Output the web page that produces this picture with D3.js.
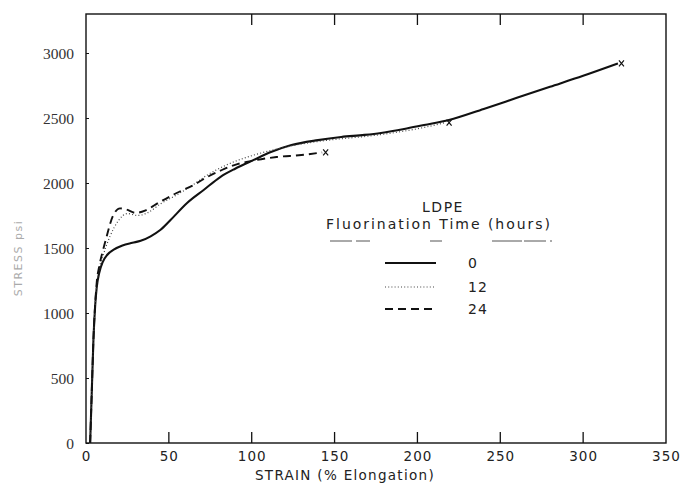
<!DOCTYPE html>
<html>
<head>
<meta charset="utf-8">
<script src="https://cdn.jsdelivr.net/npm/d3@7"></script>
<style>
  html, body { margin: 0; padding: 0; background: #fff; }
  svg { display: block; }
</style>
</head>
<body>
<svg id="chart" width="681" height="487"></svg>
<script>
// ---- data ----
const strain0  = [2.5, 3.5, 4.5, 5.5, 6.5, 8, 10, 13, 17, 22, 28, 33, 39, 45, 51, 61, 71, 81, 90, 100, 112, 124, 140, 154, 168, 178, 192, 204, 219, 240, 260, 280, 300, 321];
const stress0  = [0, 400, 800, 1050, 1200, 1310, 1390, 1450, 1490, 1520, 1540, 1555, 1590, 1640, 1715, 1846, 1946, 2046, 2110, 2170, 2240, 2292, 2330, 2354, 2370, 2385, 2415, 2446, 2485, 2570, 2655, 2740, 2825, 2920];
const strain12 = [2.5, 3.5, 4.5, 5.5, 6.5, 8, 10.5, 14.5, 19.5, 25, 31, 37, 45, 55, 65, 73, 85, 100, 115, 130, 150, 170, 190, 205, 217];
const stress12 = [0, 400, 800, 1050, 1220, 1340, 1450, 1590, 1710, 1765, 1750, 1770, 1840, 1910, 1990, 2060, 2140, 2210, 2260, 2300, 2335, 2360, 2395, 2430, 2465];
const strain24 = [2.5, 3.5, 4.5, 5.5, 6.5, 8, 10, 12.5, 16, 20.5, 24.5, 30, 36, 44, 55, 65, 73, 82, 90, 100, 115, 130, 142.5];
const stress24 = [0, 400, 800, 1060, 1240, 1360, 1470, 1590, 1740, 1805, 1795, 1770, 1790, 1850, 1925, 1985, 2045, 2100, 2140, 2170, 2200, 2215, 2235];
const seriesNames = ["0", "12", "24"];
const xTicks = [0, 50, 100, 150, 200, 250, 300, 350];
const yTicks = [0, 500, 1000, 1500, 2000, 2500, 3000];
const topTicks = [100, 150, 200, 250, 300];

// ---- layout ----
const svg = d3.select("#chart");
const L = 86, R = 666, T = 14, B = 443;
const x = d3.scaleLinear().domain([0, 350]).range([L, R]);
const y = d3.scaleLinear().domain([0, 3300]).range([B, T]);
const ink = "#111";

// frame
svg.append("rect").attr("x", L).attr("y", T).attr("width", R - L).attr("height", B - T)
  .attr("fill", "none").attr("stroke", ink).attr("stroke-width", 1.4);

// bottom axis: inward ticks + labels
const xAxis = d3.axisBottom(x).tickValues(xTicks).tickSize(0).tickPadding(0).tickFormat(d3.format("d"));
const gx = svg.append("g").attr("transform", `translate(0,${B})`).call(xAxis);
gx.select(".domain").remove();
gx.selectAll("text").attr("y", 18).attr("dy", 0)
  .attr("font-family", "DejaVu Sans, sans-serif").attr("font-size", 13.5)
  .attr("letter-spacing", 1).attr("fill", "#222");
svg.append("g").selectAll("line").data(xTicks.filter(d => d > 0 && d < 350)).join("line")
  .attr("x1", d => x(d)).attr("x2", d => x(d)).attr("y1", B).attr("y2", B - 11)
  .attr("stroke", ink).attr("stroke-width", 1.3);
// top ticks
svg.append("g").selectAll("line").data(topTicks).join("line")
  .attr("x1", d => x(d)).attr("x2", d => x(d)).attr("y1", T).attr("y2", T + 11)
  .attr("stroke", ink).attr("stroke-width", 1.3);

// left axis labels
const yAxis = d3.axisLeft(y).tickValues(yTicks).tickSize(3).tickPadding(9).tickFormat(d3.format("d"));
const gy = svg.append("g").attr("transform", `translate(${L},0)`).call(yAxis);
gy.select(".domain").remove();
gy.selectAll(".tick line").attr("stroke", ink).attr("x2", 3);
gy.selectAll("text").attr("x", -12).attr("dy", "0.36em")
  .attr("font-family", "Liberation Serif, serif").attr("font-size", 15.5).attr("fill", "#333");

// axis titles
svg.append("text").attr("x", 345).attr("y", 480).attr("text-anchor", "middle")
  .attr("font-family", "DejaVu Sans, sans-serif").attr("font-size", 13.5).attr("letter-spacing", 1.3)
  .attr("fill", "#222").text("STRAIN (% Elongation)");
svg.append("text").attr("transform", "translate(22,258) rotate(-90)").attr("text-anchor", "middle")
  .attr("font-family", "DejaVu Sans, sans-serif").attr("font-size", 11).attr("letter-spacing", 1.5)
  .attr("fill", "#aaa").text("STRESS  psi");

// curves
const styles = [
  {w: 2.1, dash: null, col: "#111"},
  {w: 1.2, dash: "1,2.2", col: "#444"},
  {w: 1.9, dash: "8,5", col: "#111"}
];
const sets = [
  strain0.map((s, i) => [s, stress0[i]]),
  strain12.map((s, i) => [s, stress12[i]]),
  strain24.map((s, i) => [s, stress24[i]])
];
const line = d3.line().x(d => x(d[0])).y(d => y(d[1])).curve(d3.curveMonotoneX);
sets.forEach((pts, i) => {
  svg.append("path").attr("d", line(pts)).attr("fill", "none")
    .attr("stroke", styles[i].col).attr("stroke-width", styles[i].w)
    .attr("stroke-dasharray", styles[i].dash);
  const last = pts[pts.length - 1];
  const cx = x(last[0]) + 3.5, cy = y(last[1]);
  svg.append("path").attr("d", `M${cx - 2.5},${cy - 3}L${cx + 2.5},${cy + 3}M${cx + 2.5},${cy - 3}L${cx - 2.5},${cy + 3}`)
    .attr("stroke", "#111").attr("stroke-width", 1.2).attr("fill", "none");
});

// legend
const lf = "DejaVu Sans, sans-serif";
svg.append("text").attr("x", 443).attr("y", 212).attr("text-anchor", "middle")
  .attr("font-family", lf).attr("font-size", 14).attr("letter-spacing", 1.5).attr("fill", "#222").text("LDPE");
svg.append("text").attr("x", 326).attr("y", 229)
  .attr("font-family", lf).attr("font-size", 14).attr("textLength", 224).attr("lengthAdjust", "spacing")
  .attr("fill", "#222").text("Fluorination Time (hours)");
svg.append("line").attr("x1", 330).attr("x2", 552).attr("y1", 241).attr("y2", 241)
  .attr("stroke", "#555").attr("stroke-width", 1).attr("stroke-dasharray", "22,4,14,60,12,50,30,2");
const legY = [263, 287, 309];
seriesNames.forEach((n, i) => {
  svg.append("line").attr("x1", 385).attr("x2", 436).attr("y1", legY[i]).attr("y2", legY[i])
    .attr("stroke", styles[i].col).attr("stroke-width", styles[i].w).attr("stroke-dasharray", styles[i].dash);
  svg.append("text").attr("x", 468).attr("y", legY[i] + 5)
    .attr("font-family", lf).attr("font-size", 14).attr("letter-spacing", 1).attr("fill", "#222").text(n);
});
</script>
</body>
</html>
